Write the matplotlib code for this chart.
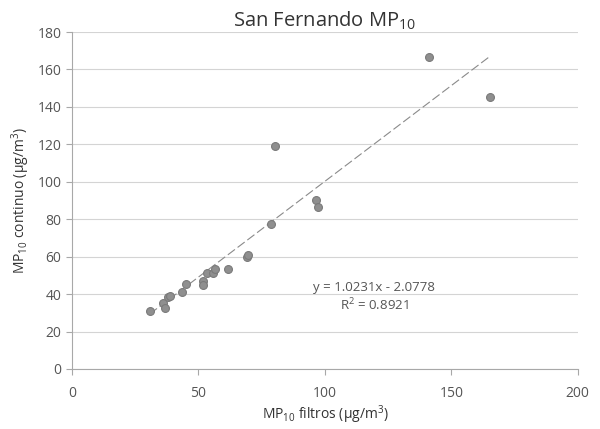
import matplotlib
matplotlib.use("Agg")
import matplotlib.pyplot as plt
import numpy as np

plt.rcParams['font.family'] = ['Open Sans', 'DejaVu Sans']
plt.rcParams['mathtext.default'] = 'regular'

filtros = [30.8, 36.0, 36.8, 37.9, 38.7, 43.5, 45.1, 51.8, 51.8, 53.4, 55.7, 56.5,
           61.7, 69.2, 69.6, 78.7, 80.2, 96.4, 97.2, 141.1, 165.2]
continuo = [31.0, 35.3, 32.6, 38.5, 39.0, 41.1, 45.4, 47.0, 44.9, 51.3, 51.3, 53.4,
            53.4, 59.8, 60.9, 77.5, 119.1, 90.3, 86.5, 166.7, 145.3]
slope, intercept = 1.0231, -2.0778
r2 = 0.8921
xticks = [0, 50, 100, 150, 200]
yticks = list(range(0, 181, 20))

fig = plt.figure(figsize=(6, 4.29), dpi=100)
ax = fig.add_axes([0.12, 0.14, 0.843, 0.7854])

ax.set_xlim(0, 200)
ax.set_ylim(0, 180)
ax.set_xticks(xticks)
ax.set_yticks(yticks)
ax.yaxis.grid(True, color='#d4d4d4', linewidth=0.8)
ax.set_axisbelow(True)
for s in ['top', 'right']:
    ax.spines[s].set_visible(False)
for s in ['left', 'bottom']:
    ax.spines[s].set_color('#a8a8a8')
    ax.spines[s].set_linewidth(0.8)
ax.tick_params(axis='both', colors='#a8a8a8', labelcolor='#555555', labelsize=10, length=4)
ax.tick_params(axis='x', pad=8)

ax.scatter(filtros, continuo, s=32, color='#8f8f8f', edgecolor='#7a7a7a', linewidth=0.8, zorder=3)

xl = np.array([min(filtros), max(filtros)])
ax.plot(xl, slope * xl + intercept, color='#8a8a8a', linestyle=(0, (8, 3)), linewidth=0.8, zorder=2)

ax.text(119.4, 43.3, f"y = {slope:.4f}x - {abs(intercept):.4f}", ha='center', va='center',
        fontsize=9.5, color='#555555')
ax.text(119.4, 34.2, f"R$^2$ = {r2:.4f}", ha='center', va='center', fontsize=9.5, color='#555555')

ax.set_title("San Fernando MP$_{10}$", fontsize=14.5, color='#333333', pad=4)
ax.set_xlabel("MP$_{10}$ filtros (µg/m$^3$)", fontsize=10, color='#333333', labelpad=2)
ax.set_ylabel("MP$_{10}$ continuo (µg/m$^3$)", fontsize=10, color='#333333', labelpad=4)

fig.savefig("out.png", dpi=100)
